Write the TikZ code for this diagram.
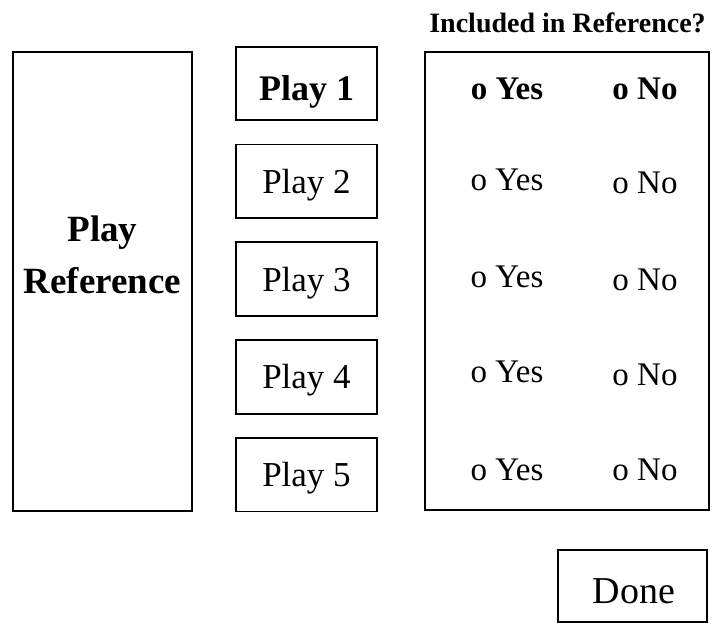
\documentclass[tikz,border=0pt]{standalone}
\usepackage{fontspec}
\setmainfont{Liberation Serif}
\usetikzlibrary{positioning}
\tikzset{frame/.style={draw=black,line width=1.8pt,inner sep=0pt},
 playbox/.style={frame,minimum width=141pt,minimum height=73.5pt,
 font=\fontsize{35}{40}\selectfont,text height=24pt,text depth=0pt},
 opt/.style={anchor=base,inner sep=0pt,font=\fontsize{33}{38}\selectfont},
 head/.style={anchor=base,inner sep=0pt,font=\bfseries\fontsize{28}{32}\selectfont}}

\begin{document}
\begin{tikzpicture}[x=1pt,y=-1pt,node distance=22.5pt]
\useasboundingbox (0,0) rectangle (712,624);
\node[frame,minimum width=179pt,minimum height=459pt] (refbox) at (102.5,281.5) {};
\node[align=center,inner sep=0pt,font=\bfseries\fontsize{37}{52}\selectfont] (reftext) at (102.5,255) {Play\\Reference};

\node[playbox,font=\bfseries\fontsize{36}{40}\selectfont,text height=33pt] (play1) at (306.5,83.5) {Play 1};
\foreach \i [count=\j from 1] in {2,...,5}
 \node[playbox,below=of play\j] (play\i) {Play \i};

\node[head] (title) at (567.5,32) {Included in Reference?};
\node[frame,minimum width=284pt,minimum height=458pt] (choices) at (567,281) {};
\node[opt,font=\bfseries\fontsize{33}{38}\selectfont] (yes1) at (507,99) {o Yes};
\node[opt,font=\bfseries\fontsize{33}{38}\selectfont] (no1) at (645,99) {o No};
\foreach \r/\ya/\yb in {2/190/193,3/287/290,4/382/385,5/480/480}{
 \node[opt] (yes\r) at (507,\ya) {o Yes};
 \node[opt] (no\r) at (645,\yb) {o No};
}

\node[frame,minimum width=149pt,minimum height=72pt] (done) at (632.5,586) {};
\node[anchor=base,inner sep=0pt,font=\fontsize{38}{44}\selectfont] (donetext) at (634,603) {Done};
\end{tikzpicture}
\end{document}
